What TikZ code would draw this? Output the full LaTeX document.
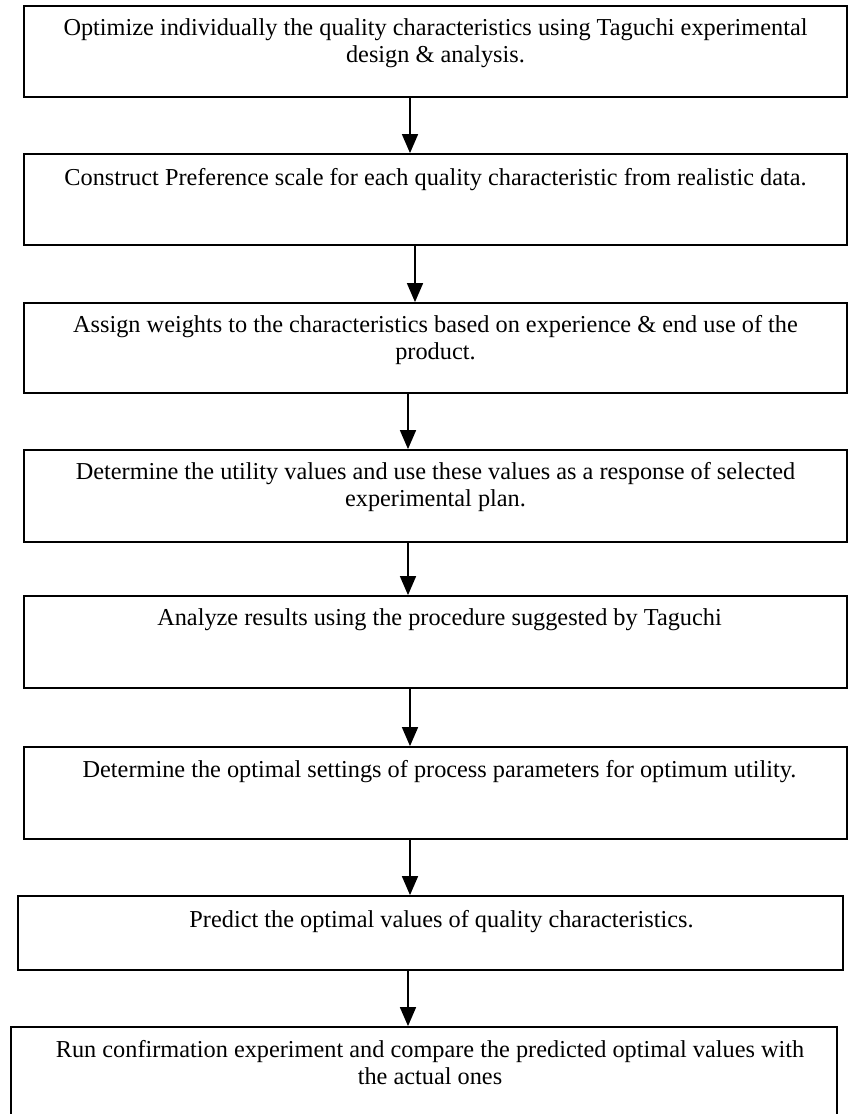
\documentclass[tikz,border=0pt]{standalone}
\usepackage{fontspec}
\setmainfont{Liberation Serif}
\usetikzlibrary{arrows.meta}
\begin{document}
\begin{tikzpicture}[x=1pt,y=-1pt,
  stepbox/.style={draw=black,line width=1.8pt,inner sep=0pt,rectangle},
  steptext/.style={anchor=base,inner sep=0pt,align=center,font=\fontsize{24.3}{27}\selectfont},
  arr/.style={line width=1.6pt,-{Triangle[width=16pt,length=19pt]}}]
\useasboundingbox (0,0) rectangle (848,1114);
\clip (0,0) rectangle (848,1114);
\fill[white] (0,0) rectangle (848,1114);
% boxes
\node[stepbox,minimum width=823pt,minimum height=91pt] (b1) at (435.5,51.5) {};
\node[stepbox,minimum width=823pt,minimum height=91pt] (b2) at (435.5,199.5) {};
\node[stepbox,minimum width=823pt,minimum height=90pt] (b3) at (435.5,348) {};
\node[stepbox,minimum width=823pt,minimum height=92pt] (b4) at (435.5,496) {};
\node[stepbox,minimum width=823pt,minimum height=92pt] (b5) at (435.5,642) {};
\node[stepbox,minimum width=823pt,minimum height=92pt] (b6) at (435.5,793) {};
\node[stepbox,minimum width=825pt,minimum height=74pt] (b7) at (430.5,933) {};
\node[stepbox,minimum width=826pt,minimum height=95pt] (b8) at (424,1074.5) {};
% texts (two-line nodes: base is on the last line)
\node[steptext] (t1) at ([yshift=-57pt]b1.north) {Optimize individually the quality characteristics using Taguchi experimental\\design \& analysis.};
\node[steptext] (t2) at ([yshift=-32pt]b2.north) {Construct Preference scale for each quality characteristic from realistic data.};
\node[steptext] (t3) at ([yshift=-57pt]b3.north) {Assign weights to the characteristics based on experience \& end use of the\\product.};
\node[steptext] (t4) at ([yshift=-57pt]b4.north) {Determine the utility values and use these values as a response of selected\\experimental plan.};
\node[steptext] (t5) at ([xshift=4pt,yshift=-30pt]b5.north) {Analyze results using the procedure suggested by Taguchi};
\node[steptext] (t6) at ([xshift=4pt,yshift=-31pt]b6.north) {Determine the optimal settings of process parameters for optimum utility.};
\node[steptext] (t7) at ([xshift=11pt,yshift=-32pt]b7.north) {Predict the optimal values of quality characteristics.};
\node[steptext] (t8) at ([xshift=6pt,yshift=-58pt]b8.north) {Run confirmation experiment and compare the predicted optimal values with\\the actual ones};
% arrows
\draw[arr] ([xshift=-25.5pt]b1.south) -- ([xshift=-25.5pt]b1.south |- b2.north);
\draw[arr] ([xshift=-20.5pt]b2.south) -- ([xshift=-20.5pt]b2.south |- b3.north);
\draw[arr] ([xshift=-27.5pt]b3.south) -- ([xshift=-27.5pt]b3.south |- b4.north);
\draw[arr] ([xshift=-27.5pt]b4.south) -- ([xshift=-27.5pt]b4.south |- b5.north);
\draw[arr] ([xshift=-25.5pt]b5.south) -- ([xshift=-25.5pt]b5.south |- b6.north);
\draw[arr] ([xshift=-25.5pt]b6.south) -- ([xshift=-25.5pt]b6.south |- b7.north);
\draw[arr] ([xshift=-22.5pt]b7.south) -- ([xshift=-22.5pt]b7.south |- b8.north);
\end{tikzpicture}
\end{document}
